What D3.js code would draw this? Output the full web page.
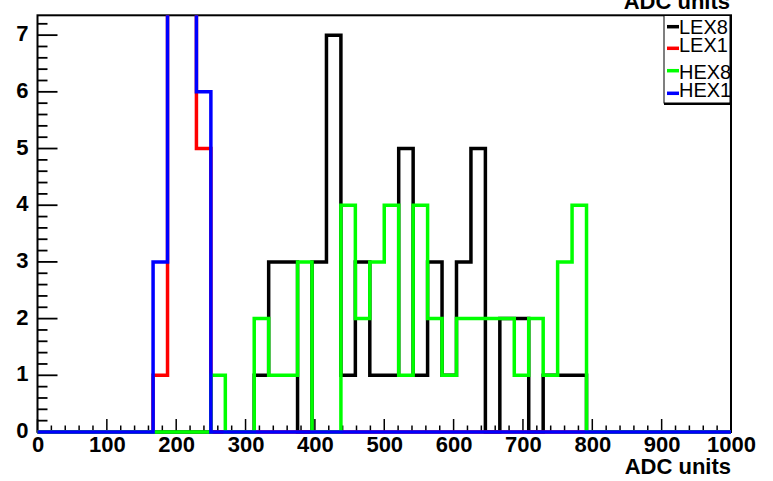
<!DOCTYPE html>
<html><head><meta charset="utf-8">
<script src="https://cdn.jsdelivr.net/npm/d3@7"></script>
<style>html,body{margin:0;padding:0;background:#fff;} svg{display:block;}</style>
</head><body><svg id="c" width="773" height="481"></svg>
<script>
// ---- data ----
const nBins = 48;
const xMin = 0, xMax = 1000;
const yMax = 7.35;
const xTickLabels = ["0","100","200","300","400","500","600","700","800","900","1000"];
const yTickLabels = ["0","1","2","3","4","5","6","7"];
const seriesNames = ["LEX8","LEX1","HEX8","HEX1"];
const seriesColors = ["#000000","#ff0000","#00ff00","#0000ff"];
const lex8 = [0,0,0,0,0,0,0,0,0,0, 0,0,0,0,0,1,3,3,0,3, 7,1,3,1,1,5,1,3,1,3, 5,0,2,2,0,1,1,1,0,0, 0,0,0,0,0,0,0,0];
const lex1 = [0,0,0,0,0,0,0,0,1,22, 22,5,0,0,0,0,0,0,0,0, 0,0,0,0,0,0,0,0,0,0, 0,0,0,0,0,0,0,0,0,0, 0,0,0,0,0,0,0,0];
const hex8 = [0,0,0,0,0,0,0,0,0,0, 0,0,1,0,0,2,1,1,3,0, 0,4,2,3,4,1,4,2,1,2, 2,2,2,1,2,1,3,4,0,0, 0,0,0,0,0,0,0,0];
const hex1 = [0,0,0,0,0,0,0,0,3,20, 21,6,0,0,0,0,0,0,0,0, 0,0,0,0,0,0,0,0,0,0, 0,0,0,0,0,0,0,0,0,0, 0,0,0,0,0,0,0,0];
const seriesValues = [lex8, lex1, hex8, hex1];

// ---- layout ----
const W = 773, H = 481;
const fL = 37.5, fR = 731, fT = 15.3, fB = 432;
const svg = d3.select("#c");
svg.append("rect").attr("width", W).attr("height", H).attr("fill", "#fff");

const x = d3.scaleLinear().domain([xMin, xMax]).range([fL, fR]);
const y = d3.scaleLinear().domain([0, yMax]).range([fB, fT]);
const binW = (xMax - xMin) / nBins;
const FONT = "'Liberation Sans', Arial, Helvetica, sans-serif";

svg.append("defs").append("clipPath").attr("id", "clip")
  .append("rect").attr("x", 0).attr("y", fT).attr("width", W).attr("height", H - fT);

// frame
svg.append("rect").attr("x", fL).attr("y", fT).attr("width", fR - fL).attr("height", fB - fT)
  .attr("fill", "none").attr("stroke", "#000").attr("stroke-width", 2);

const line = d3.line().x(d => x(d[0])).y(d => y(d[1])).curve(d3.curveStepAfter);
function drawHist(i) {
  const vals = seriesValues[i];
  const pts = vals.map((v, k) => [xMin + k * binW, v]);
  pts.push([xMax, vals[vals.length - 1]]);
  svg.append("path").attr("clip-path", "url(#clip)")
    .attr("d", line(pts)).attr("fill", "none")
    .attr("stroke", seriesColors[i]).attr("stroke-width", 3.5)
    .attr("stroke-linejoin", "miter").attr("stroke-linecap", "butt");
}

function drawAxes() {
  // x axis ticks (inside, pointing up)
  const xAxis = d3.axisBottom(x).tickValues(d3.range(0, 1001, 100)).tickSize(0)
    .tickFormat((d, i) => xTickLabels[i]);
  const gx = svg.append("g").attr("transform", `translate(0,${fB})`).call(xAxis);
  gx.select(".domain").remove();
  gx.selectAll("text").attr("y", 20).attr("dy", 0)
    .attr("font-family", FONT).attr("font-weight", "bold").attr("font-size", 22).attr("fill", "#000");
  const gxt = svg.append("g");
  d3.range(0, 1001, 20).forEach(v => {
    const major = v % 100 === 0;
    gxt.append("line").attr("x1", x(v)).attr("x2", x(v))
      .attr("y1", fB).attr("y2", fB - (major ? 13 : 6.5))
      .attr("stroke", "#000").attr("stroke-width", 1.5);
  });
  // y axis
  const yAxis = d3.axisLeft(y).tickValues(d3.range(0, 8, 1)).tickSize(0)
    .tickFormat((d, i) => yTickLabels[i]);
  const gy = svg.append("g").attr("transform", `translate(${fL},0)`).call(yAxis);
  gy.select(".domain").remove();
  gy.selectAll("text").attr("x", -9).attr("dy", 0).attr("y", 5.5)
    .attr("font-family", FONT).attr("font-weight", "bold").attr("font-size", 22).attr("fill", "#000");
  const gyt = svg.append("g");
  for (let k = 0; k <= 36; k++) {
    const v = k * 0.2;
    const major = k % 5 === 0;
    gyt.append("line").attr("x1", fL).attr("x2", fL + (major ? 20 : 10))
      .attr("y1", y(v)).attr("y2", y(v)).attr("stroke", "#000").attr("stroke-width", 1.8);
  }
  // axis titles
  svg.append("text").attr("x", fR).attr("y", 474).attr("text-anchor", "end")
    .attr("font-family", FONT).attr("font-weight", "bold").attr("font-size", 22).text("ADC units");
  svg.append("text").attr("x", fR - 1).attr("y", 9).attr("text-anchor", "end")
    .attr("font-family", FONT).attr("font-weight", "bold").attr("font-size", 22).text("ADC units");
}

drawHist(0);
drawAxes();
drawHist(1);
drawHist(2);
drawHist(3);

// legend
const lg = svg.append("g");
const lx0 = 664, lx1 = 730, ly0 = 15.5, ly1 = 104;
lg.append("rect").attr("x", lx0).attr("y", ly0).attr("width", lx1 - lx0).attr("height", ly1 - ly0 - 1)
  .attr("fill", "#fff").attr("stroke", "#000").attr("stroke-width", 1);
lg.append("line").attr("x1", lx0).attr("x2", lx1).attr("y1", ly1).attr("y2", ly1)
  .attr("stroke", "#000").attr("stroke-width", 2);
const markerY = [26.7, 48.3, 70.7, 93.3];
const textY = [33.5, 51.5, 78.5, 96.5];
seriesNames.forEach((n, i) => {
  lg.append("line").attr("x1", 667).attr("x2", 679).attr("y1", markerY[i]).attr("y2", markerY[i])
    .attr("stroke", seriesColors[i]).attr("stroke-width", 3.5);
  lg.append("text").attr("x", 679).attr("y", textY[i]).attr("font-family", FONT)
    .attr("font-size", 20).attr("fill", "#000").text(n);
});
</script></body></html>
